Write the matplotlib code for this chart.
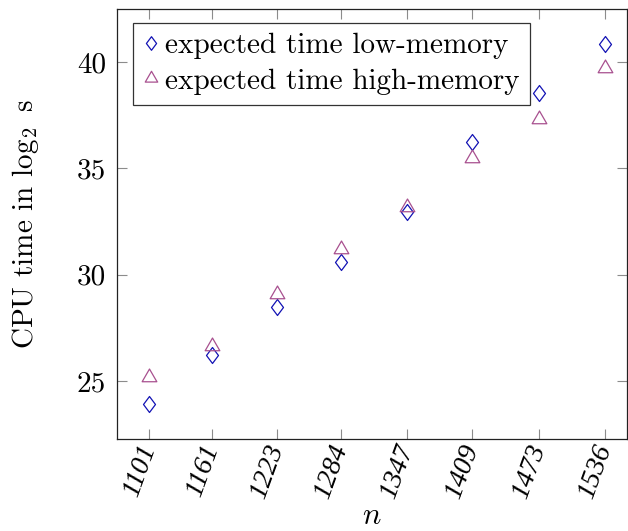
import numpy as np
import matplotlib
matplotlib.use("Agg")
import matplotlib.pyplot as plt
from matplotlib.path import Path

plt.rcParams["font.family"] = ["cmr10", "DejaVu Serif"]
plt.rcParams["mathtext.fontset"] = "cm"
plt.rcParams["axes.formatter.use_mathtext"] = True

# problem size n and measured CPU time (log2 seconds)
n_values = [1101, 1161, 1223, 1284, 1347, 1409, 1473, 1536]
low_memory = [23.90, 26.24, 28.48, 30.60, 32.96, 36.24, 38.53, 40.84]
high_memory = [25.19, 26.63, 29.10, 31.21, 33.17, 35.49, 37.30, 39.73]
y_ticks = [25, 30, 35, 40]

series_labels = ["expected time low-memory", "expected time high-memory"]

# pgfplots-style marks: narrow diamond and triangle centred on its circumcentre
diamond = Path([(0, 1), (0.75, 0), (0, -1), (-0.75, 0), (0, 1)],
               [Path.MOVETO, Path.LINETO, Path.LINETO, Path.LINETO, Path.CLOSEPOLY])
triangle = Path([(0, 1), (-0.866, -0.5), (0.866, -0.5), (0, 1)],
                [Path.MOVETO, Path.LINETO, Path.LINETO, Path.CLOSEPOLY])

blue = "#1212b4"
purple = "#a8508f"
fs = 21

fig = plt.figure(figsize=(6.28, 5.31), dpi=100)
ax = fig.add_axes([0.1863, 0.1733, 0.812, 0.8097])

ax.plot(n_values, low_memory, linestyle="none", marker=diamond, markersize=11.5,
        markerfacecolor="none", markeredgecolor=blue, markeredgewidth=0.9,
        label=series_labels[0])
ax.plot(n_values, high_memory, linestyle="none", marker=triangle, markersize=12.2,
        markerfacecolor="none", markeredgecolor=purple, markeredgewidth=0.9,
        label=series_labels[1])

ax.set_xlim(1070.2, 1557.3)
ax.set_ylim(22.27, 42.49)

ax.set_xticks(n_values)
ax.set_xticklabels([str(v) for v in n_values], rotation=70, ha="right",
                   va="center", rotation_mode="anchor",
                   family=["Liberation Serif"], style="italic", fontsize=20)
ax.set_yticks(y_ticks)
ax.set_yticklabels([str(v) for v in y_ticks], fontsize=fs)

ax.tick_params(direction="in", length=7, width=0.8, color="#8c8c8c",
               top=True, right=True, pad=8)
ax.tick_params(axis="x", pad=5)
for s in ax.spines.values():
    s.set_linewidth(0.9)
    s.set_color("#222222")

ax.set_ylabel(r"CPU time in $\log_2$ s", fontsize=fs, labelpad=26)
ax.set_xlabel(r"$n$", fontsize=fs + 1, labelpad=0)

leg = ax.legend(loc="upper left", bbox_to_anchor=(0.032, 0.968), fontsize=fs,
                frameon=True, fancybox=False, borderaxespad=0, handlelength=0.5,
                handletextpad=0.25, borderpad=0.35, labelspacing=0.3,
                markerscale=0.85)
leg.get_frame().set_edgecolor("black")
leg.get_frame().set_linewidth(0.9)

fig.savefig("out.png", dpi=100)
